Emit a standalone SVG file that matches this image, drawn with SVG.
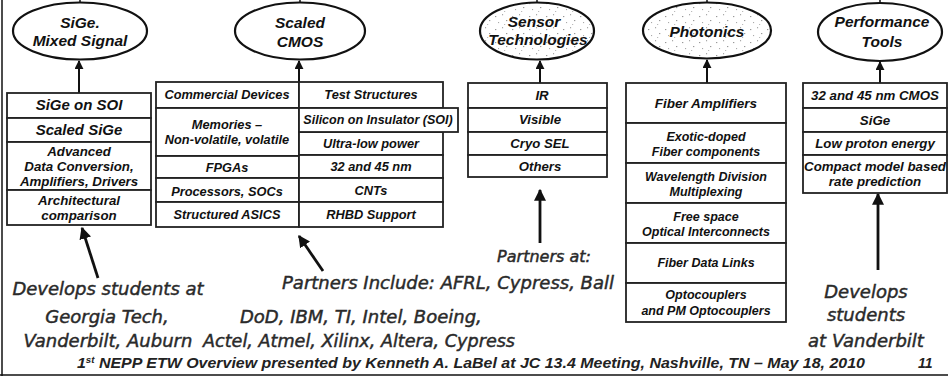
<svg xmlns="http://www.w3.org/2000/svg" width="948" height="377" viewBox="0 0 948 377">
<defs>
<marker id="ah" viewBox="0 0 10 10" refX="9" refY="5" markerWidth="9" markerHeight="9" markerUnits="userSpaceOnUse" orient="auto">
<path d="M0,0 L10,5 L0,10 z" fill="#111"/>
</marker>
<marker id="ahb" viewBox="0 0 10 10" refX="9" refY="5" markerWidth="12" markerHeight="12" markerUnits="userSpaceOnUse" orient="auto">
<path d="M0,0 L10,5 L0,10 z" fill="#111"/>
</marker>
<pattern id="speck" width="17" height="13" patternUnits="userSpaceOnUse">
<rect width="17" height="13" fill="#fff"/>
<rect x="2" y="3" width="1.3" height="1.1" fill="#999"/>
<rect x="9" y="1" width="1.1" height="1.3" fill="#aaa"/>
<rect x="13" y="7" width="1.3" height="1.1" fill="#999"/>
<rect x="5" y="9" width="1.1" height="1.1" fill="#aaa"/>
<rect x="11" y="11" width="1.2" height="1" fill="#bbb"/>
</pattern>
<style>
.el{fill:#fff;stroke:#111;stroke-width:2.2}
.sp{fill:url(#speck)}
.cell{fill:#fff;stroke:#222;stroke-width:1.8}
.t{font-family:"Liberation Sans",Arial,sans-serif;font-weight:bold;font-style:italic;font-size:12.5px;fill:#111;text-anchor:middle}
#sige-box .t{font-size:13.3px}
#cmos-box .t{font-size:12.8px}
#sensor-box .t{font-size:13.2px}
#perf-box .t{font-size:13.3px}
.et{font-family:"Liberation Sans",Arial,sans-serif;font-weight:bold;font-style:italic;font-size:15.5px;fill:#111;text-anchor:middle}
.n{font-family:"DejaVu Sans","Liberation Sans",sans-serif;font-style:italic;font-size:18px;fill:#2a2a2a;stroke:#2a2a2a;stroke-width:0.45}
.f{font-family:"Liberation Sans",Arial,sans-serif;font-weight:bold;font-style:italic;font-size:14px;fill:#222}
.c{stroke:#111;stroke-width:2;fill:none}
.cb{stroke:#111;stroke-width:2.8;fill:none}
.up{stroke:#111;stroke-width:1.5;fill:none}
</style>
</defs>
<rect width="948" height="377" fill="#fff"/>
<g id="frame">
<line x1="2" y1="0" x2="2" y2="376" class="up"/>
<line x1="0" y1="375" x2="948" y2="375" class="up"/>
</g>

<g id="connectors">
<line x1="80" y1="0" x2="80" y2="3" class="up"/>
<line x1="300" y1="0" x2="300" y2="3" class="up"/>
<line x1="537" y1="0" x2="537" y2="3" class="up"/>
<line x1="707" y1="0" x2="707" y2="3" class="up"/>
<line x1="880" y1="0" x2="880" y2="3" class="up"/>
<line x1="79" y1="93" x2="79" y2="61" class="c" marker-end="url(#ah)"/>
<line x1="299" y1="82" x2="299" y2="61" class="c" marker-end="url(#ah)"/>
<line x1="540" y1="83" x2="540" y2="61" class="c" marker-end="url(#ah)"/>
<line x1="707" y1="83" x2="707" y2="60" class="c" marker-end="url(#ah)"/>
<line x1="880" y1="83" x2="880" y2="62" class="c" marker-end="url(#ah)"/>
<line x1="98" y1="278" x2="82" y2="228" class="cb" marker-end="url(#ahb)"/>
<line x1="323" y1="271" x2="299" y2="236" class="cb" marker-end="url(#ahb)"/>
<line x1="540" y1="243" x2="540" y2="190" class="cb" marker-end="url(#ahb)"/>
<line x1="878" y1="270" x2="878" y2="194" class="cb" marker-end="url(#ahb)"/>
</g>

<g id="sige">
<ellipse cx="80" cy="31" rx="67" ry="28.5" class="el"/>
<text class="et" x="80" y="28">SiGe.</text>
<text class="et" x="80" y="46">Mixed Signal</text>
</g>
<g id="cmos">
<ellipse cx="300" cy="31" rx="65" ry="28.5" class="el"/>
<text class="et" x="300" y="28">Scaled</text>
<text class="et" x="300" y="47">CMOS</text>
</g>
<g id="sensor">
<ellipse cx="537" cy="31" rx="57" ry="28.5" class="el sp"/>
<text class="et" x="534" y="27">Sensor</text>
<text class="et" x="538" y="45">Technologies</text>
</g>
<g id="photonics">
<ellipse cx="707" cy="30.5" rx="64" ry="28" class="el sp"/>
<text class="et" x="707" y="37">Photonics</text>
</g>
<g id="perf">
<ellipse cx="880" cy="32" rx="62" ry="29" class="el"/>
<text class="et" x="882" y="27">Performance</text>
<text class="et" x="882" y="47">Tools</text>
</g>

<g id="sige-box">
<rect x="7" y="93" width="144" height="25" class="cell"/>
<rect x="7" y="118" width="144" height="24" class="cell"/>
<rect x="7" y="142" width="144" height="48" class="cell"/>
<rect x="7" y="190" width="144" height="35" class="cell"/>
<text class="t" x="79" y="110" style="font-size:15px">SiGe on SOI</text>
<text class="t" x="79" y="135" style="font-size:15px">Scaled SiGe</text>
<text class="t" x="79" y="156">Advanced</text>
<text class="t" x="79" y="171">Data Conversion,</text>
<text class="t" x="79" y="185.5">Amplifiers, Drivers</text>
<text class="t" x="79" y="205">Architectural</text>
<text class="t" x="79" y="220">comparison</text>
</g>

<g id="cmos-box">
<rect x="156" y="82" width="143" height="26" class="cell"/>
<rect x="156" y="108" width="143" height="48" class="cell"/>
<rect x="156" y="156" width="143" height="22" class="cell sp"/>
<rect x="156" y="178" width="143" height="24" class="cell sp"/>
<rect x="156" y="202" width="143" height="25" class="cell"/>
<rect x="299" y="82" width="144" height="26" class="cell"/>
<rect x="299" y="132" width="144" height="23" class="cell"/>
<rect x="299" y="155" width="144" height="23" class="cell"/>
<rect x="299" y="178" width="144" height="24" class="cell sp"/>
<rect x="299" y="202" width="144" height="25" class="cell"/>
<rect x="299" y="108" width="159" height="24" class="cell"/>
<text class="t" x="227" y="99">Commercial Devices</text>
<text class="t" x="227" y="129">Memories –</text>
<text class="t" x="227" y="144">Non-volatile, volatile</text>
<text class="t" x="227" y="172">FPGAs</text>
<text class="t" x="227" y="196">Processors, SOCs</text>
<text class="t" x="227" y="219">Structured ASICS</text>
<text class="t" x="371" y="99">Test Structures</text>
<text class="t" x="378" y="124" style="font-size:12.5px">Silicon on Insulator (SOI)</text>
<text class="t" x="371" y="148">Ultra-low power</text>
<text class="t" x="371" y="171">32 and 45 nm</text>
<text class="t" x="371" y="195">CNTs</text>
<text class="t" x="371" y="219">RHBD Support</text>
</g>

<g id="sensor-box">
<rect x="468" y="83" width="139" height="25" class="cell sp"/>
<rect x="468" y="108" width="139" height="24" class="cell sp"/>
<rect x="468" y="132" width="139" height="23" class="cell sp"/>
<rect x="468" y="155" width="139" height="22" class="cell"/>
<text class="t" x="542" y="100">IR</text>
<text class="t" x="540" y="124">Visible</text>
<text class="t" x="540" y="148">Cryo SEL</text>
<text class="t" x="540" y="171">Others</text>
</g>

<g id="photonics-box">
<rect x="626" y="83" width="160" height="40" class="cell"/>
<rect x="626" y="123" width="160" height="40" class="cell"/>
<rect x="626" y="163" width="160" height="40" class="cell"/>
<rect x="626" y="203" width="160" height="40" class="cell"/>
<rect x="626" y="243" width="160" height="40" class="cell"/>
<rect x="626" y="283" width="160" height="39" class="cell"/>
<text class="t" x="706" y="108" style="font-size:13.5px">Fiber Amplifiers</text>
<text class="t" x="706" y="141">Exotic-doped</text>
<text class="t" x="706" y="156">Fiber components</text>
<text class="t" x="706" y="181">Wavelength Division</text>
<text class="t" x="706" y="196">Multiplexing</text>
<text class="t" x="706" y="221">Free space</text>
<text class="t" x="706" y="236">Optical Interconnects</text>
<text class="t" x="706" y="267">Fiber Data Links</text>
<text class="t" x="706" y="299">Optocouplers</text>
<text class="t" x="706" y="315">and PM Optocouplers</text>
</g>

<g id="perf-box">
<rect x="803" y="83" width="144" height="25" class="cell"/>
<rect x="803" y="108" width="144" height="24" class="cell"/>
<rect x="803" y="132" width="144" height="23" class="cell"/>
<rect x="803" y="155" width="144" height="38" class="cell"/>
<text class="t" x="875" y="100">32 and 45 nm CMOS</text>
<text class="t" x="875" y="125">SiGe</text>
<text class="t" x="875" y="148">Low proton energy</text>
<text class="t" x="875" y="171">Compact model based</text>
<text class="t" x="875" y="186">rate prediction</text>
</g>

<g id="notes">
<text class="n" x="108" y="295" text-anchor="middle">Develops students at</text>
<text class="n" x="107" y="323" text-anchor="middle">Georgia Tech,</text>
<text class="n" x="108" y="347" text-anchor="middle">Vanderbilt, Auburn</text>
<text class="n" x="282" y="289">Partners Include: AFRL, Cypress, Ball</text>
<text class="n" x="240" y="323">DoD, IBM, TI, Intel, Boeing,</text>
<text class="n" x="203" y="347" style="font-size:17.6px">Actel, Atmel, Xilinx, Altera, Cypress</text>
<text class="n" x="544" y="262" text-anchor="middle" style="font-size:16px">Partners at:</text>
<text class="n" x="866" y="298" text-anchor="middle">Develops</text>
<text class="n" x="866" y="321" text-anchor="middle">students</text>
<text class="n" x="866" y="347" text-anchor="middle">at Vanderbilt</text>
</g>

<g id="footer">
<text class="f" x="77" y="368" textLength="788" lengthAdjust="spacingAndGlyphs">1<tspan font-size="8.5" dy="-5">st</tspan><tspan dy="5"> NEPP ETW Overview presented by Kenneth A. LaBel at JC 13.4 Meeting, Nashville, TN – May 18, 2010</tspan></text>
<text class="f" x="918" y="368" font-size="11">11</text>
</g>
</svg>
